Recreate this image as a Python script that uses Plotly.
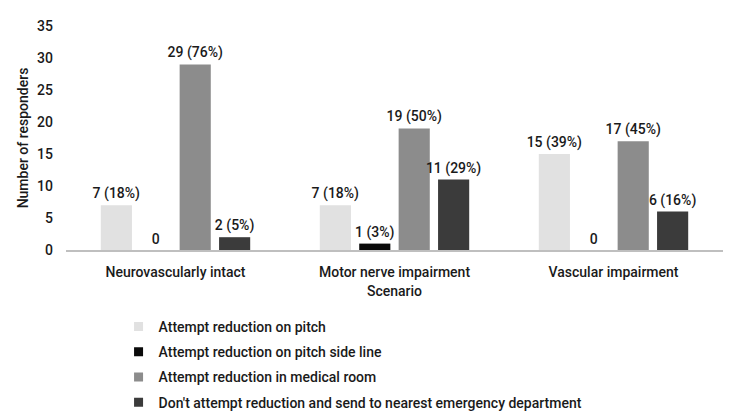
import plotly.graph_objects as go

scenarios = ["Neurovascularly intact", "Motor nerve impairment", "Vascular impairment"]
series_names = [
    "Attempt reduction on pitch",
    "Attempt reduction on pitch side line",
    "Attempt reduction in medical room",
    "Don't attempt reduction and send to nearest emergency department",
]
pitch = [7, 7, 15]
side_line = [0, 1, 0]
medical_room = [29, 19, 17]
emergency = [2, 11, 6]
pitch_pct = [18, 18, 39]
side_line_pct = [None, 3, None]
medical_room_pct = [76, 50, 45]
emergency_pct = [5, 29, 16]

colors = ["#e1e1e1", "#0a0a0a", "#8c8c8c", "#3b3b3b"]
values = [pitch, side_line, medical_room, emergency]
pcts = [pitch_pct, side_line_pct, medical_room_pct, emergency_pct]

FONT = "Roboto"
W = 500
TXT = "#1a1a1a"

def label(v, p):
    return "0" if v == 0 else f"{v} ({p}%)"

fig = go.Figure()
for name, vals, pc, col in zip(series_names, values, pcts, colors):
    fig.add_trace(go.Bar(
        x=scenarios, y=vals, name=name, showlegend=False,
        marker=dict(color=col, line=dict(width=0)),
        text=[label(v, p) for v, p in zip(vals, pc)],
        textposition="outside", constraintext="none",
        textfont=dict(family=FONT, size=14, color=TXT, weight=W),
        cliponaxis=False,
    ))
for name, col in zip(series_names, colors):
    fig.add_trace(go.Scatter(
        x=[None], y=[None], mode="markers", name=name, legendgroup=name,
        marker=dict(symbol="square", size=9, color=col),
        showlegend=True,
    ))

fig.update_layout(
    width=750, height=415,
    margin=dict(l=66, r=27, t=26, b=165, autoexpand=False),
    paper_bgcolor="white", plot_bgcolor="white",
    barmode="group", bargap=0.28, bargroupgap=0.21,
    font=dict(family=FONT, size=14, color=TXT),
    showlegend=True,
    legend=dict(
        orientation="v", x=0.08, y=-0.272, xanchor="left", yanchor="top",
        font=dict(family=FONT, size=14, color=TXT, weight=W),
        tracegroupgap=4, itemwidth=30,
    ),
    xaxis=dict(
        title=dict(text="Scenario", font=dict(size=14, weight=W), standoff=7),
        showline=True, linecolor="#bfbfbf", linewidth=2, automargin=False,
        tickfont=dict(size=14, weight=W), ticks="", ticklabelstandoff=8,
    ),
    yaxis=dict(
        title=dict(text="Number of responders", font=dict(size=14, weight=W), standoff=5),
        range=[0, 35], dtick=5, showgrid=False, zeroline=False, automargin=False,
        tickfont=dict(size=14, weight=W), ticks="", ticklabelstandoff=12,
    ),
)

fig.write_html("out.html")
